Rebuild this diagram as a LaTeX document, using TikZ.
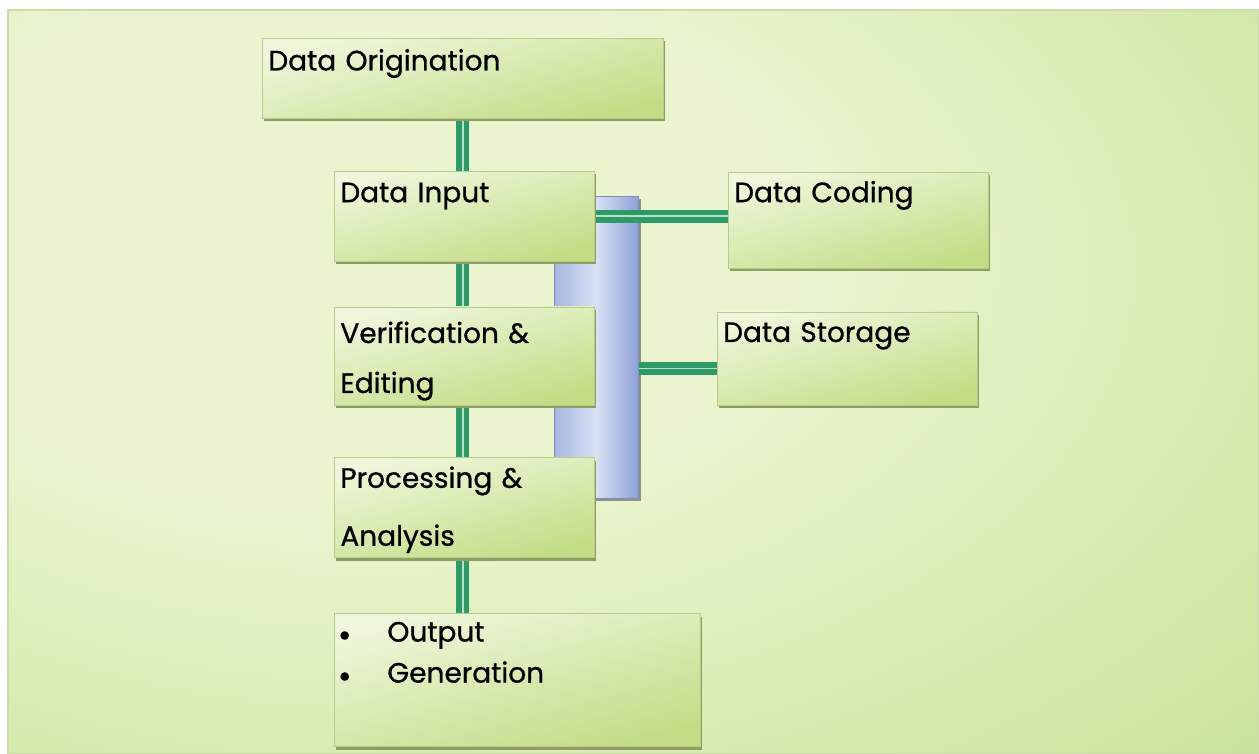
\documentclass[tikz,border=0pt]{standalone}
\usepackage{fontspec}
\setmainfont{Poppins}
\newfontfamily\stagefont[FakeBold=0.8]{Poppins}
\usepackage{tikz}
\usetikzlibrary{positioning, shadows, backgrounds}
\definecolor{panelpale}{HTML}{EAF5D0}
\definecolor{panelgreen}{HTML}{C3E08F}
\definecolor{panelline}{HTML}{CADDA8}
\definecolor{boxtop}{HTML}{EEF7DB}
\definecolor{boxbottom}{HTML}{C2DD86}
\definecolor{boxedge}{HTML}{B8CC8C}
\definecolor{boxshadow}{HTML}{8F9C62}
\definecolor{linkgreen}{HTML}{2E9A68}
\definecolor{linklight}{HTML}{B4E3C6}
\definecolor{busleft}{HTML}{A5B5E0}
\definecolor{busmid}{HTML}{D8E1F4}
\definecolor{busright}{HTML}{8EA0D7}
\definecolor{busedge}{HTML}{7D8EBE}
\definecolor{busshadow}{HTML}{8C9488}
\pgfdeclareradialshading{panelglow}{\pgfpoint{-15bp}{12bp}}{color(0bp)=(panelpale); color(18bp)=(panelpale); color(50bp)=(panelgreen); color(80bp)=(panelgreen)}
\newcommand{\listdot}{\makebox[23.5pt][l]{\hspace*{-0.5pt}\fontsize{11}{11}\selectfont$\bullet$}}

\begin{document}
\begin{tikzpicture}[
    stage/.style={rectangle, draw=boxedge, top color=boxtop, bottom color=boxbottom,
        shading angle=15, anchor=north west, align=left, inner xsep=3pt, inner ysep=0pt,
        font=\stagefont\fontsize{14}{16}\selectfont, text=black,
        drop shadow={shadow xshift=0.9pt, shadow yshift=-1.5pt, fill=boxshadow, opacity=1}},
    bus/.style={rectangle, draw=busedge, line width=0.6pt, left color=busleft, right color=busright,
        middle color=busmid, minimum width=42pt, minimum height=151pt, inner sep=0pt, anchor=north west,
        drop shadow={shadow xshift=1.5pt, shadow yshift=-1.5pt, fill=busshadow, opacity=1}},
    link/.style={draw=linkgreen, line width=2.8pt, double=linklight, double distance=0.9pt}
]
    \useasboundingbox (0,0) rectangle (629.5pt,-377pt);

    % Main column
    \node[stage, text width=194.5pt, text height=16pt, text depth=24pt] (orig) at (131pt,-19pt) {Data Origination};
    \node[stage, below right=26pt and 36pt of orig.south west, text width=124pt, text height=15.5pt, text depth=29.5pt] (input) {Data Input};
    \node[stage, below=22.5pt of input, text width=124pt, text height=18pt, text depth=31pt] (verif) {Verification \&\\[9pt]Editing};
    \node[stage, below=26pt of verif, text width=124pt, text height=15pt, text depth=35pt] (proc) {Processing \&\\[13pt]Analysis};
    \node[stage, below right=27.5pt and 0pt of proc.south west, text width=177pt, text height=14pt, text depth=52.5pt] (output)
        {\listdot Output\\[4.5pt]\listdot Generation};

    % Side column
    \node[stage, below right=0.5pt and 66.5pt of input.north east, text width=124pt, text height=15pt, text depth=33pt] (coding) {Data Coding};
    \node[stage, below right=2.5pt and 61pt of verif.north east, text width=124pt, text height=15pt, text depth=31.5pt] (storage) {Data Storage};

    \begin{scope}[on background layer]
        \shadedraw[shading=panelglow, draw=panelline, line width=0.8pt] (4pt,-5pt) rectangle (629.5pt,-377pt);
        \node[bus, below right=12.5pt and -20.5pt of input.north east] (bus) {};
        % Links
        \draw[link] (orig.south) -- (orig.south |- output.north);
        \draw[link] (input.east) -- (input.east -| coding.west);
        \draw[link] ([yshift=-5pt]storage.west) -- ([yshift=-5pt]storage.west -| bus.east);
    \end{scope}
\end{tikzpicture}
\end{document}
